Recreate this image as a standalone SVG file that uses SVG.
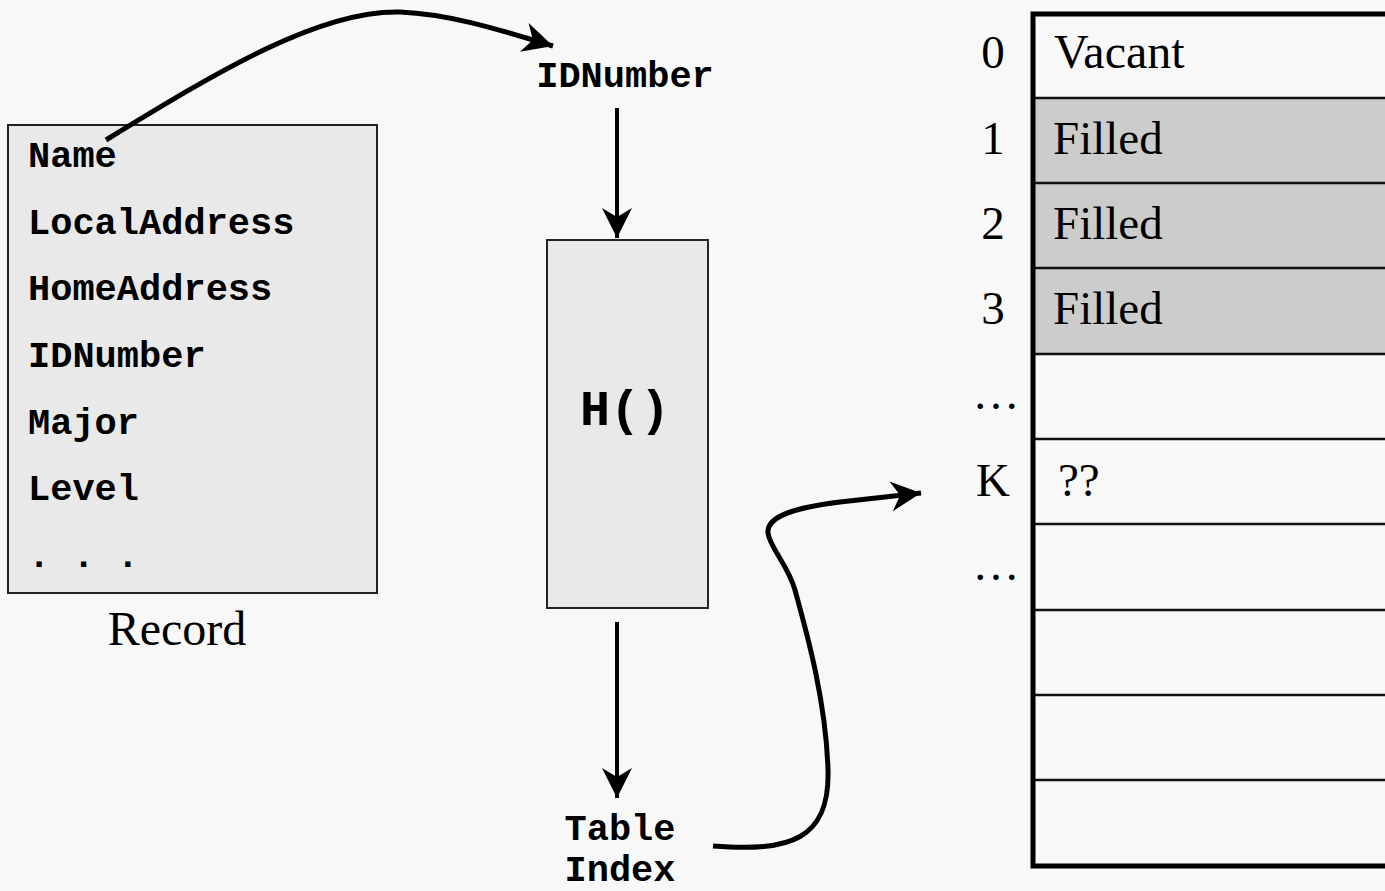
<svg xmlns="http://www.w3.org/2000/svg" width="1385" height="891" viewBox="0 0 1385 891">
<style>
.mono{font-family:"Liberation Mono","Courier New",monospace;font-weight:bold;fill:#000}
.serif{font-family:"Liberation Serif","Times New Roman",serif;fill:#000}
.box{fill:#e9e9e9;stroke:#222;stroke-width:2}
.row{stroke:#111;stroke-width:2.5}
.conn{fill:none;stroke:#000;stroke-linecap:butt}
</style>
<defs>
<marker id="ah" markerUnits="userSpaceOnUse" viewBox="-34 -18 36 36" refX="0" refY="0" markerWidth="36" markerHeight="36" orient="auto" overflow="visible">
<path d="M0,0 L-30,-15 L-21,0 L-30,15 Z" fill="#000"/>
</marker>
</defs>
<rect width="1385" height="891" fill="#f8f8f8"/>

<g id="record">
<rect class="box" x="8" y="125" width="369" height="468"/>
<text class="mono" font-size="37" x="28" y="167">Name</text>
<text class="mono" font-size="37" x="28" y="234">LocalAddress</text>
<text class="mono" font-size="37" x="28" y="300">HomeAddress</text>
<text class="mono" font-size="37" x="28" y="367">IDNumber</text>
<text class="mono" font-size="37" x="28" y="434">Major</text>
<text class="mono" font-size="37" x="28" y="500">Level</text>
<text class="mono" font-size="37" x="28" y="567">. . .</text>
<text class="serif" font-size="48" x="177" y="645" text-anchor="middle">Record</text>
</g>

<g id="idnumber">
<text class="mono" font-size="37" x="625" y="87" text-anchor="middle">IDNumber</text>
</g>

<g id="hash">
<rect class="box" x="547" y="240" width="161" height="368"/>
<text class="mono" font-size="50" x="625" y="425" text-anchor="middle">H()</text>
</g>

<g id="tableindex">
<text class="mono" font-size="37" x="620" y="840" text-anchor="middle">Table</text>
<text class="mono" font-size="37" x="620" y="881" text-anchor="middle">Index</text>
</g>

<g id="table">
<rect x="1033" y="98" width="400" height="256" fill="#cccccc"/>
<line class="row" x1="1033" y1="98" x2="1400" y2="98"/>
<line class="row" x1="1033" y1="183" x2="1400" y2="183"/>
<line class="row" x1="1033" y1="268" x2="1400" y2="268"/>
<line class="row" x1="1033" y1="354" x2="1400" y2="354"/>
<line class="row" x1="1033" y1="439" x2="1400" y2="439"/>
<line class="row" x1="1033" y1="524" x2="1400" y2="524"/>
<line class="row" x1="1033" y1="610" x2="1400" y2="610"/>
<line class="row" x1="1033" y1="695" x2="1400" y2="695"/>
<line class="row" x1="1033" y1="780" x2="1400" y2="780"/>
<rect x="1033" y="14" width="400" height="852" fill="none" stroke="#000" stroke-width="5"/>
<text class="serif" font-size="47" x="993" y="68" text-anchor="middle">0</text>
<text class="serif" font-size="47" x="993" y="154" text-anchor="middle">1</text>
<text class="serif" font-size="47" x="993" y="239" text-anchor="middle">2</text>
<text class="serif" font-size="47" x="993" y="324" text-anchor="middle">3</text>
<text class="serif" font-size="47" x="996" y="409" text-anchor="middle">…</text>
<text class="serif" font-size="47" x="993" y="496" text-anchor="middle">K</text>
<text class="serif" font-size="47" x="996" y="580" text-anchor="middle">…</text>
<text class="serif" font-size="48" x="1054" y="68">Vacant</text>
<text class="serif" font-size="47" x="1053" y="154">Filled</text>
<text class="serif" font-size="47" x="1053" y="239">Filled</text>
<text class="serif" font-size="47" x="1053" y="324">Filled</text>
<text class="serif" font-size="47" x="1058" y="496">??</text>
</g>

<g id="connectors">
<path class="conn" stroke-width="5" d="M106,140 C 220,70 320,10 400,12 C 450,14 500,30 553,46" marker-end="url(#ah)"/>
<line class="conn" stroke-width="4" x1="617" y1="108" x2="617" y2="238" marker-end="url(#ah)"/>
<line class="conn" stroke-width="4" x1="617" y1="622" x2="617" y2="798" marker-end="url(#ah)"/>
<path class="conn" stroke-width="5" d="M713,846 C 790,852 830,840 828,770 C 826,700 806,630 795,590 C 788,565 770,548 768,533 C 766,515 800,507 840,502 L 921,493" marker-end="url(#ah)"/>
</g>
</svg>
